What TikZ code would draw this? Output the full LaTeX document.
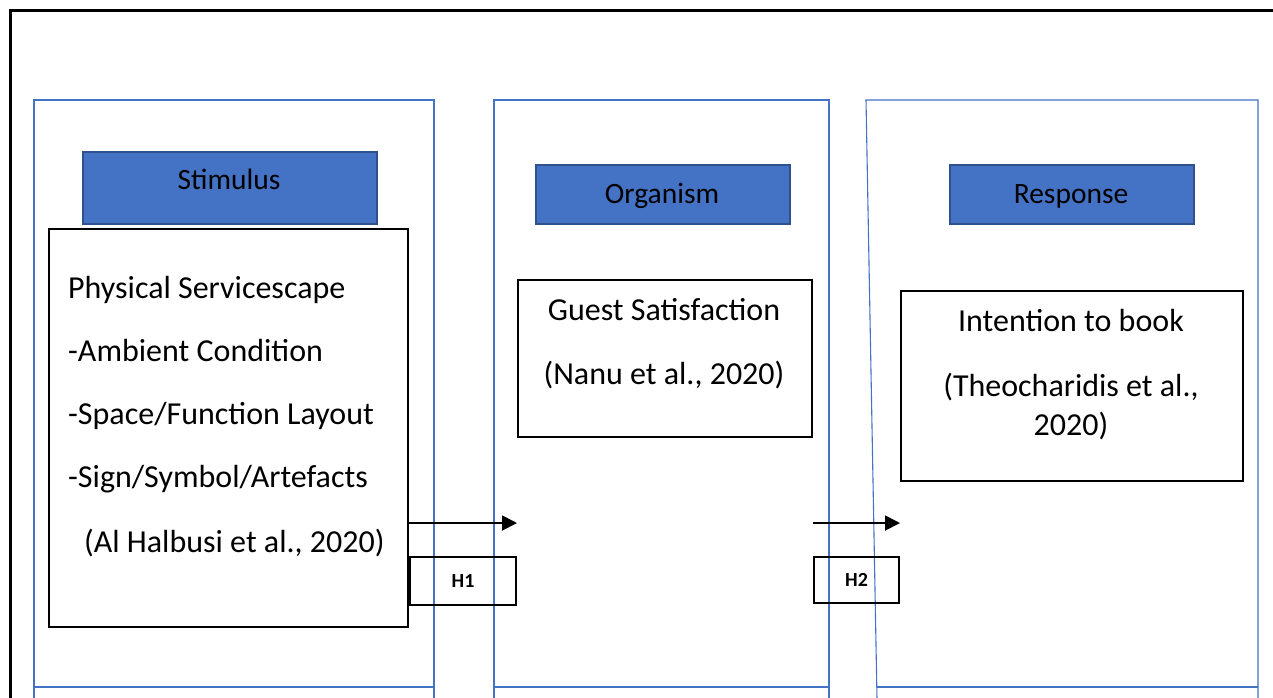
\documentclass[tikz,border=0pt]{standalone}
\usepackage{fontspec}
\setmainfont{Carlito}
\usetikzlibrary{arrows.meta}
\definecolor{hdrfill}{HTML}{4472C4}
\definecolor{hdrline}{HTML}{2F528F}
\definecolor{panelblue}{HTML}{4472C4}
\tikzset{
  panel/.style={draw=panelblue, line width=1.1pt},
  hdr/.style={draw=hdrline, fill=hdrfill, line width=2pt, anchor=north west, inner sep=0pt},
  box/.style={draw=black, line width=2pt, anchor=north west, inner sep=0pt},
  body/.style={font=\fontsize{32}{37}\selectfont, inner sep=0pt},
  hdrtxt/.style={font=\fontsize{29.5}{34}\selectfont, inner sep=0pt, anchor=base},
  htxt/.style={font=\bfseries\fontsize{20}{23}\selectfont, inner sep=0pt},
  arr/.style={line width=1.8pt, -{Triangle[length=15pt,width=15pt]}}
}
\begin{document}
\begin{tikzpicture}[x=1pt,y=-1pt]
\useasboundingbox (0,0) rectangle (1273,697);
\clip (0,0) rectangle (1273,697);
% outer border
\draw[line width=3pt] (10,720) -- (10,10) -- (1300,10);
% panels
\draw[panel] (34,710) -- (34,100) -- (434,100) -- (434,710);
\draw[panel] (34,687) -- (434,687);
\draw[panel] (494,710) -- (494,100) -- (829,100) -- (829,710);
\draw[panel] (494,687) -- (829,687);
\draw[panel] (877.2,710) -- (866,100) -- (1258,100) -- (1258,710);
\draw[panel] (876.8,687) -- (1258,687);
% headers
\node[hdr, minimum width=294pt, minimum height=72pt] (sh) at (82,151) {};
\node[hdr, minimum width=254pt, minimum height=59pt] (oh) at (535,164) {};
\node[hdr, minimum width=244pt, minimum height=59pt] (rh) at (949,164) {};
\node[hdrtxt] (sht) at (229,189) {Stimulus};
\node[hdrtxt] (oht) at (662,203) {Organism};
\node[hdrtxt] (rht) at (1071,203) {Response};
% content boxes
\node[box, minimum width=359pt, minimum height=398pt] (ps) at (48,228) {};
\node[box, minimum width=294pt, minimum height=157pt] (gs) at (517,279) {};
\node[box, minimum width=342pt, minimum height=190pt] (ib) at (900,290) {};
% stimulus text
\node[body, anchor=base west] (p1) at (68,298) {Physical Servicescape};
\node[body, anchor=base west] (p2) at (68,361) {-Ambient Condition};
\node[body, anchor=base west] (p3) at (68,424) {-Space/Function Layout};
\node[body, anchor=base west] (p4) at (68,487) {-Sign/Symbol/Artefacts};
\node[body, anchor=base west] (p5) at (84,552) {(Al Halbusi et al., 2020)};
% organism text
\node[body, anchor=base] (g1) at (664,320) {Guest Satisfaction};
\node[body, anchor=base] (g2) at (664,384) {(Nanu et al., 2020)};
% response text
\node[body, anchor=base] (i1) at (1071,331) {Intention to book};
\node[body, anchor=base] (i2) at (1071,396) {(Theocharidis et al.,};
\node[body, anchor=base] (i3) at (1071,435) {2020)};
% arrows
\coordinate (ya) at (0,523);
\draw[arr] (ps.east |- ya) -- (gs.west |- ya);
\draw[arr] (gs.east |- ya) -- (ib.west |- ya);
% hypothesis boxes
\node[box, minimum width=106pt, minimum height=48pt] (h1) at (409,556) {};
\node[htxt] (h1t) at (h1.center) {H1};
\node[box, minimum width=85pt, minimum height=46pt] (h2) at (813,556) {};
\node[htxt] (h2t) at (h2.center) {H2};
\end{tikzpicture}
\end{document}
